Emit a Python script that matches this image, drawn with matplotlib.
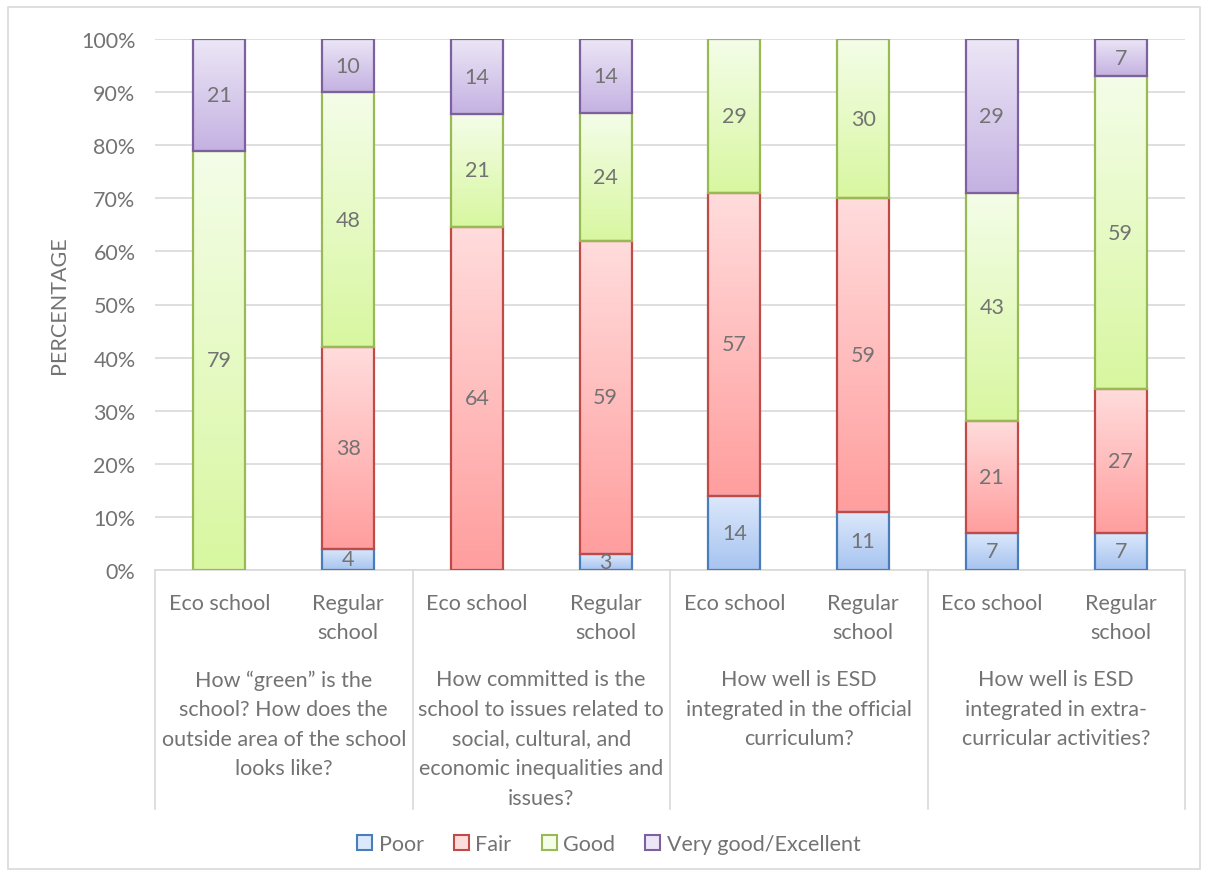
import matplotlib.pyplot as plt
import matplotlib.patches as mpatches
import numpy as np

plt.rcParams['font.family'] = ['Lato', 'DejaVu Sans']

questions = ["How \u201cgreen\u201d is the\nschool? How does the\noutside area of the school\nlooks like?",
             "How committed is the\nschool to issues related to\nsocial, cultural, and\neconomic inequalities and\nissues?",
             "How well is ESD\nintegrated in the official\ncurriculum?",
             "How well is ESD\nintegrated in extra-\ncurricular activities?"]
schools = ["Eco school", "Regular\nschool"]
levels = ["Poor", "Fair", "Good", "Very good/Excellent"]

# values per bar (eco, regular for each question)
poor = [0, 4, 0, 3, 14, 11, 7, 7]
fair = [0, 38, 64, 59, 57, 59, 21, 27]
good = [79, 48, 21, 24, 29, 30, 43, 59]
very_good = [21, 10, 14, 14, 0, 0, 29, 7]

tops = ['#dce8fb', '#ffdcdc', '#f4fde8', '#ece6f6']
bottoms = ['#a7c4f0', '#ff9e9e', '#d8f7a0', '#c4b2e2']
edges = ['#4a7ebb', '#be4b48', '#98b954', '#7d60a0']
txt = '#737373'
fs = 15.5

fig = plt.figure(figsize=(12.08, 8.78), dpi=100)
ax = fig.add_axes([155/1208, 1-571/878, 1030/1208, 531/878])

data = np.array([poor, fair, good, very_good], dtype=float)
totals = data.sum(axis=0)
pct = data / totals * 100
x = np.arange(8) + 0.5
w = 0.405

def hex2rgb(h):
    return np.array([int(h[i:i+2], 16) / 255 for i in (1, 3, 5)])

bottom = np.zeros(8)
for k in range(4):
    c0 = hex2rgb(bottoms[k])
    c1 = hex2rgb(tops[k])
    t = np.linspace(0, 1, 64)[:, None]
    grad = (c0 * (1 - t) + c1 * t)[:, None, :]
    for i in range(8):
        h = pct[k, i]
        if h <= 0:
            continue
        rect = mpatches.Rectangle((x[i] - w/2, bottom[i]), w, h, facecolor='none',
                                  edgecolor=edges[k], linewidth=1.6, zorder=4)
        ax.add_patch(rect)
        im = ax.imshow(grad, extent=(x[i] - w/2, x[i] + w/2, bottom[i], bottom[i] + h),
                       origin='lower', aspect='auto', zorder=3, interpolation='bilinear')
        im.set_clip_path(rect)
        ax.text(x[i], bottom[i] + h/2, f"{int(data[k, i])}", ha='center', va='center',
                fontsize=fs, color=txt, zorder=5)
    bottom += pct[k]

ax.set_xlim(0, 8)
ax.set_ylim(0, 100)
ax.set_yticks(np.arange(0, 101, 10))
ax.set_yticklabels([f"{v}%" for v in range(0, 101, 10)], color=txt, fontsize=fs)
ax.tick_params(axis='y', length=0, pad=14)
ax.set_xticks([])
ax.yaxis.grid(True, color='#d9d9d9', linewidth=1.2)
ax.set_axisbelow(True)
for s in ['top', 'right', 'left']:
    ax.spines[s].set_visible(False)
ax.spines['bottom'].set_color('#d9d9d9')
ax.spines['bottom'].set_linewidth(1.2)
ax.set_ylabel("PERCENTAGE", color=txt, fontsize=fs)
ax.yaxis.set_label_coords(-86/1030, 0.5)

trans = ax.get_xaxis_transform()
for i in range(8):
    ax.text(x[i], -0.043, schools[i % 2], ha='center', va='top', fontsize=fs,
            color=txt, linespacing=1.55, transform=trans)
for g in range(4):
    ax.text(2*g + 1, -0.187, questions[g], ha='center', va='top', fontsize=fs,
            color=txt, linespacing=1.6, transform=trans)
for g in range(5):
    ax.plot([2*g, 2*g], [0, -239/531], color='#d9d9d9', linewidth=1.2,
            transform=trans, clip_on=False)

handles = [mpatches.Patch(facecolor=tops[k], edgecolor=edges[k], linewidth=1.5, label=levels[k])
           for k in range(4)]
fig.legend(handles=handles, loc='center', bbox_to_anchor=(609/1208, 1-845/878), ncol=4,
           frameon=False, fontsize=fs, labelcolor=txt, handlelength=0.7, handleheight=0.7,
           handletextpad=0.3, columnspacing=1.4)

fig.patches.append(mpatches.Rectangle((8/1208, 8/878), 1192/1208, 862/878, transform=fig.transFigure,
                                      facecolor='none', edgecolor='#d9d9d9', linewidth=1.2))

fig.savefig('out.png', dpi=100)
